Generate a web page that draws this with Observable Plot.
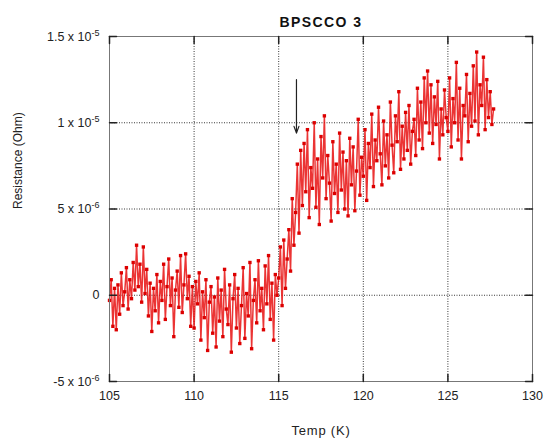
<!DOCTYPE html>
<html>
<head>
<meta charset="utf-8">
<script src="https://cdn.jsdelivr.net/npm/d3@7"></script>
<script src="https://cdn.jsdelivr.net/npm/@observablehq/plot@0.6"></script>
<style>
  html, body { margin: 0; padding: 0; background: #fff; }
  svg { font-family: "Liberation Sans", Arial, sans-serif; }
</style>
</head>
<body>
<div id="chart"></div>
<script>
const title = "BPSCCO 3";
const xLabel = "Temp (K)";
const yLabel = "Resistance (Ohm)";
const xTicks = [105, 110, 115, 120, 125, 130];
// resistance in units of 1e-6 Ohm
const yTicks = [-5, 0, 5, 10, 15];
const yTickMantissa = ["-5 x 10", "0", "5 x 10", "1 x 10", "1.5 x 10"];
const yTickExponent = ["-6", "", "-6", "-5", "-5"];

const temps = [
105.0,105.1,105.2,105.3,105.4,105.5,105.6,105.7,105.8,105.9,
106.0,106.1,106.2,106.3,106.4,106.5,106.6,106.7,106.8,106.9,
107.0,107.1,107.2,107.3,107.4,107.5,107.6,107.7,107.8,107.9,
108.0,108.1,108.2,108.3,108.4,108.5,108.6,108.7,108.8,108.9,
109.0,109.1,109.2,109.3,109.4,109.5,109.6,109.7,109.8,109.9,
110.0,110.1,110.2,110.3,110.4,110.5,110.6,110.7,110.8,110.9,
111.0,111.1,111.2,111.3,111.4,111.5,111.6,111.7,111.8,111.9,
112.0,112.1,112.2,112.3,112.4,112.5,112.6,112.7,112.8,112.9,
113.0,113.1,113.2,113.3,113.4,113.5,113.6,113.7,113.8,113.9,
114.0,114.1,114.2,114.3,114.4,114.5,114.6,114.7,114.8,114.9,
115.0,115.1,115.2,115.3,115.4,115.5,115.6,115.7,115.8,115.9,
116.0,116.1,116.2,116.3,116.4,116.5,116.6,116.7,116.8,116.9,
117.0,117.1,117.2,117.3,117.4,117.5,117.6,117.7,117.8,117.9,
118.0,118.1,118.2,118.3,118.4,118.5,118.6,118.7,118.8,118.9,
119.0,119.1,119.2,119.3,119.4,119.5,119.6,119.7,119.8,119.9,
120.0,120.1,120.2,120.3,120.4,120.5,120.6,120.7,120.8,120.9,
121.0,121.1,121.2,121.3,121.4,121.5,121.6,121.7,121.8,121.9,
122.0,122.1,122.2,122.3,122.4,122.5,122.6,122.7,122.8,122.9,
123.0,123.1,123.2,123.3,123.4,123.5,123.6,123.7,123.8,123.9,
124.0,124.1,124.2,124.3,124.4,124.5,124.6,124.7,124.8,124.9,
125.0,125.1,125.2,125.3,125.4,125.5,125.6,125.7,125.8,125.9,
126.0,126.1,126.2,126.3,126.4,126.5,126.6,126.7,126.8,126.9,
127.0,127.1,127.2,127.3,127.4,127.5,127.6,127.7
];
const resistance = [
-0.3,0.9,-1.8,0.4,-2.0,0.6,-1.1,1.3,-0.6,0.2,
1.6,-0.8,0.9,-0.2,1.9,0.3,2.9,0.5,1.8,-0.4,
2.8,0.1,1.5,-1.2,0.7,-2.1,0.4,-0.9,1.2,-1.6,
0.8,-0.3,1.8,-1.4,0.5,2.1,-0.6,1.0,-2.4,0.3,
1.4,-0.7,2.3,-1.0,0.6,2.4,-0.2,1.1,-1.8,0.5,
-1.9,0.8,-0.5,1.3,-2.6,0.2,-1.3,0.9,-3.2,-0.4,
0.5,-2.2,-0.1,-3.0,1.0,-1.5,0.3,-2.4,1.5,-0.8,
-1.7,0.6,-3.3,-0.2,1.2,-1.9,0.4,-2.8,-0.6,1.6,
-2.5,0.1,-1.2,1.9,-3.1,-0.3,0.9,-1.6,2.0,-0.9,
0.4,-2.0,1.7,-0.5,2.3,-1.4,0.7,-2.6,1.2,0.0,
1.0,2.8,-0.6,3.2,0.4,2.1,3.8,1.4,5.6,2.9,
4.8,7.6,3.6,8.4,5.2,8.8,6.0,9.6,4.5,7.4,
6.2,10.0,5.1,7.9,4.1,9.2,6.8,10.4,5.6,8.1,
6.5,4.3,8.9,5.9,7.6,4.8,9.4,6.1,8.3,5.0,
7.8,4.6,9.1,6.4,8.6,4.9,7.2,10.2,5.8,8.0,
6.9,9.6,5.5,8.8,7.4,10.5,6.3,9.0,7.8,10.9,
8.2,6.4,10.1,7.5,9.3,6.8,11.2,8.7,7.1,10.4,
8.9,11.8,7.3,9.8,7.9,10.6,8.4,11.0,7.6,9.5,
10.2,8.1,12.0,9.0,11.2,8.5,12.6,10.0,13.0,9.4,
12.2,8.8,11.5,9.9,12.4,7.9,10.8,9.3,11.9,10.3,
9.5,12.6,8.6,11.4,10.0,13.5,9.0,12.0,7.9,11.0,
10.4,12.8,8.9,11.7,9.8,13.3,10.1,14.1,9.3,12.2,
11.0,13.8,9.6,12.5,10.3,11.8,9.9,10.8
];
// annotation arrow: [x, yStart, yEnd]
const arrowAt = [{x: 116.05, y1: 12.5, y2: 9.4}];

const data = temps.map((t, i) => ({t, r: resistance[i]}));

const tickShape = {draw(ctx, l) { ctx.moveTo(0, 0); ctx.lineTo(0, -l); }};
const tickLen = 7;

const chart = Plot.plot({
  width: 550,
  height: 443,
  marginLeft: 109,
  marginRight: 18,
  marginTop: 36,
  marginBottom: 62,
  style: {fontFamily: "Liberation Sans, Arial, sans-serif", background: "#fff"},
  x: {domain: [105, 130]},
  y: {domain: [-5, 15]},
  marks: [
    Plot.gridX(xTicks, {stroke: "#222", strokeOpacity: 0.9, strokeDasharray: "1,1.5"}),
    Plot.gridY(yTicks, {stroke: "#222", strokeOpacity: 0.9, strokeDasharray: "1,1.5"}),
    Plot.line(data, {x: "t", y: "r", stroke: "#e81010", strokeOpacity: 0.85, strokeWidth: 1.5}),
    Plot.dot(data, {x: "t", y: "r", symbol: "square", r: 1.9, fill: "#dc0000", stroke: "none"}),
    Plot.frame({stroke: "#777", strokeWidth: 1}),
    Plot.vector(xTicks, {x: d => d, frameAnchor: "bottom", length: tickLen, anchor: "start", rotate: 0, shape: tickShape, stroke: "#222"}),
    Plot.vector(xTicks, {x: d => d, frameAnchor: "top", length: tickLen, anchor: "start", rotate: 180, shape: tickShape, stroke: "#222"}),
    Plot.vector(yTicks, {y: d => d, frameAnchor: "left", length: tickLen, anchor: "start", rotate: 90, shape: tickShape, stroke: "#222"}),
    Plot.vector(yTicks, {y: d => d, frameAnchor: "right", length: tickLen, anchor: "start", rotate: -90, shape: tickShape, stroke: "#222"}),
    Plot.axisX(xTicks, {tickSize: 0, tickPadding: 10, fontSize: 12.5, fill: "#222", label: null}),
    Plot.axisY(yTicks, {tickSize: 0, tickPadding: 10, fontSize: 12.5, fill: "#222", label: null,
      tickFormat: d => yTickMantissa[yTicks.indexOf(d)] + "|" + yTickExponent[yTicks.indexOf(d)]}),
    Plot.arrow(arrowAt, {x1: "x", x2: "x", y1: "y1", y2: "y2", stroke: "#222", strokeWidth: 1.2, headLength: 9, headAngle: 40}),
    Plot.text([title], {frameAnchor: "top", dy: -19, fontSize: 14, fontWeight: "bold", fill: "#111"}),
    Plot.text([xLabel], {frameAnchor: "bottom", dy: 53, fontSize: 13, fill: "#222"}),
    Plot.text([yLabel], {frameAnchor: "left", dx: -91, rotate: -90, fontSize: 12, fill: "#222"})
  ]
});

// typographic touch-ups: letter spacing and superscript exponents
d3.select(chart).selectAll("text").each(function() {
  const el = d3.select(this);
  const s = this.textContent;
  if (s === title) el.attr("letter-spacing", "1.4px");
  else if (s === xLabel) el.attr("letter-spacing", "0.8px");
  else if (s.includes("|")) {
    const [m, e] = s.split("|");
    el.text(null);
    el.append("tspan").text(m);
    if (e) el.append("tspan").attr("dy", "-0.55em").attr("font-size", "9px").text(e);
  }
});
document.getElementById("chart").appendChild(chart);
</script>
</body>
</html>
